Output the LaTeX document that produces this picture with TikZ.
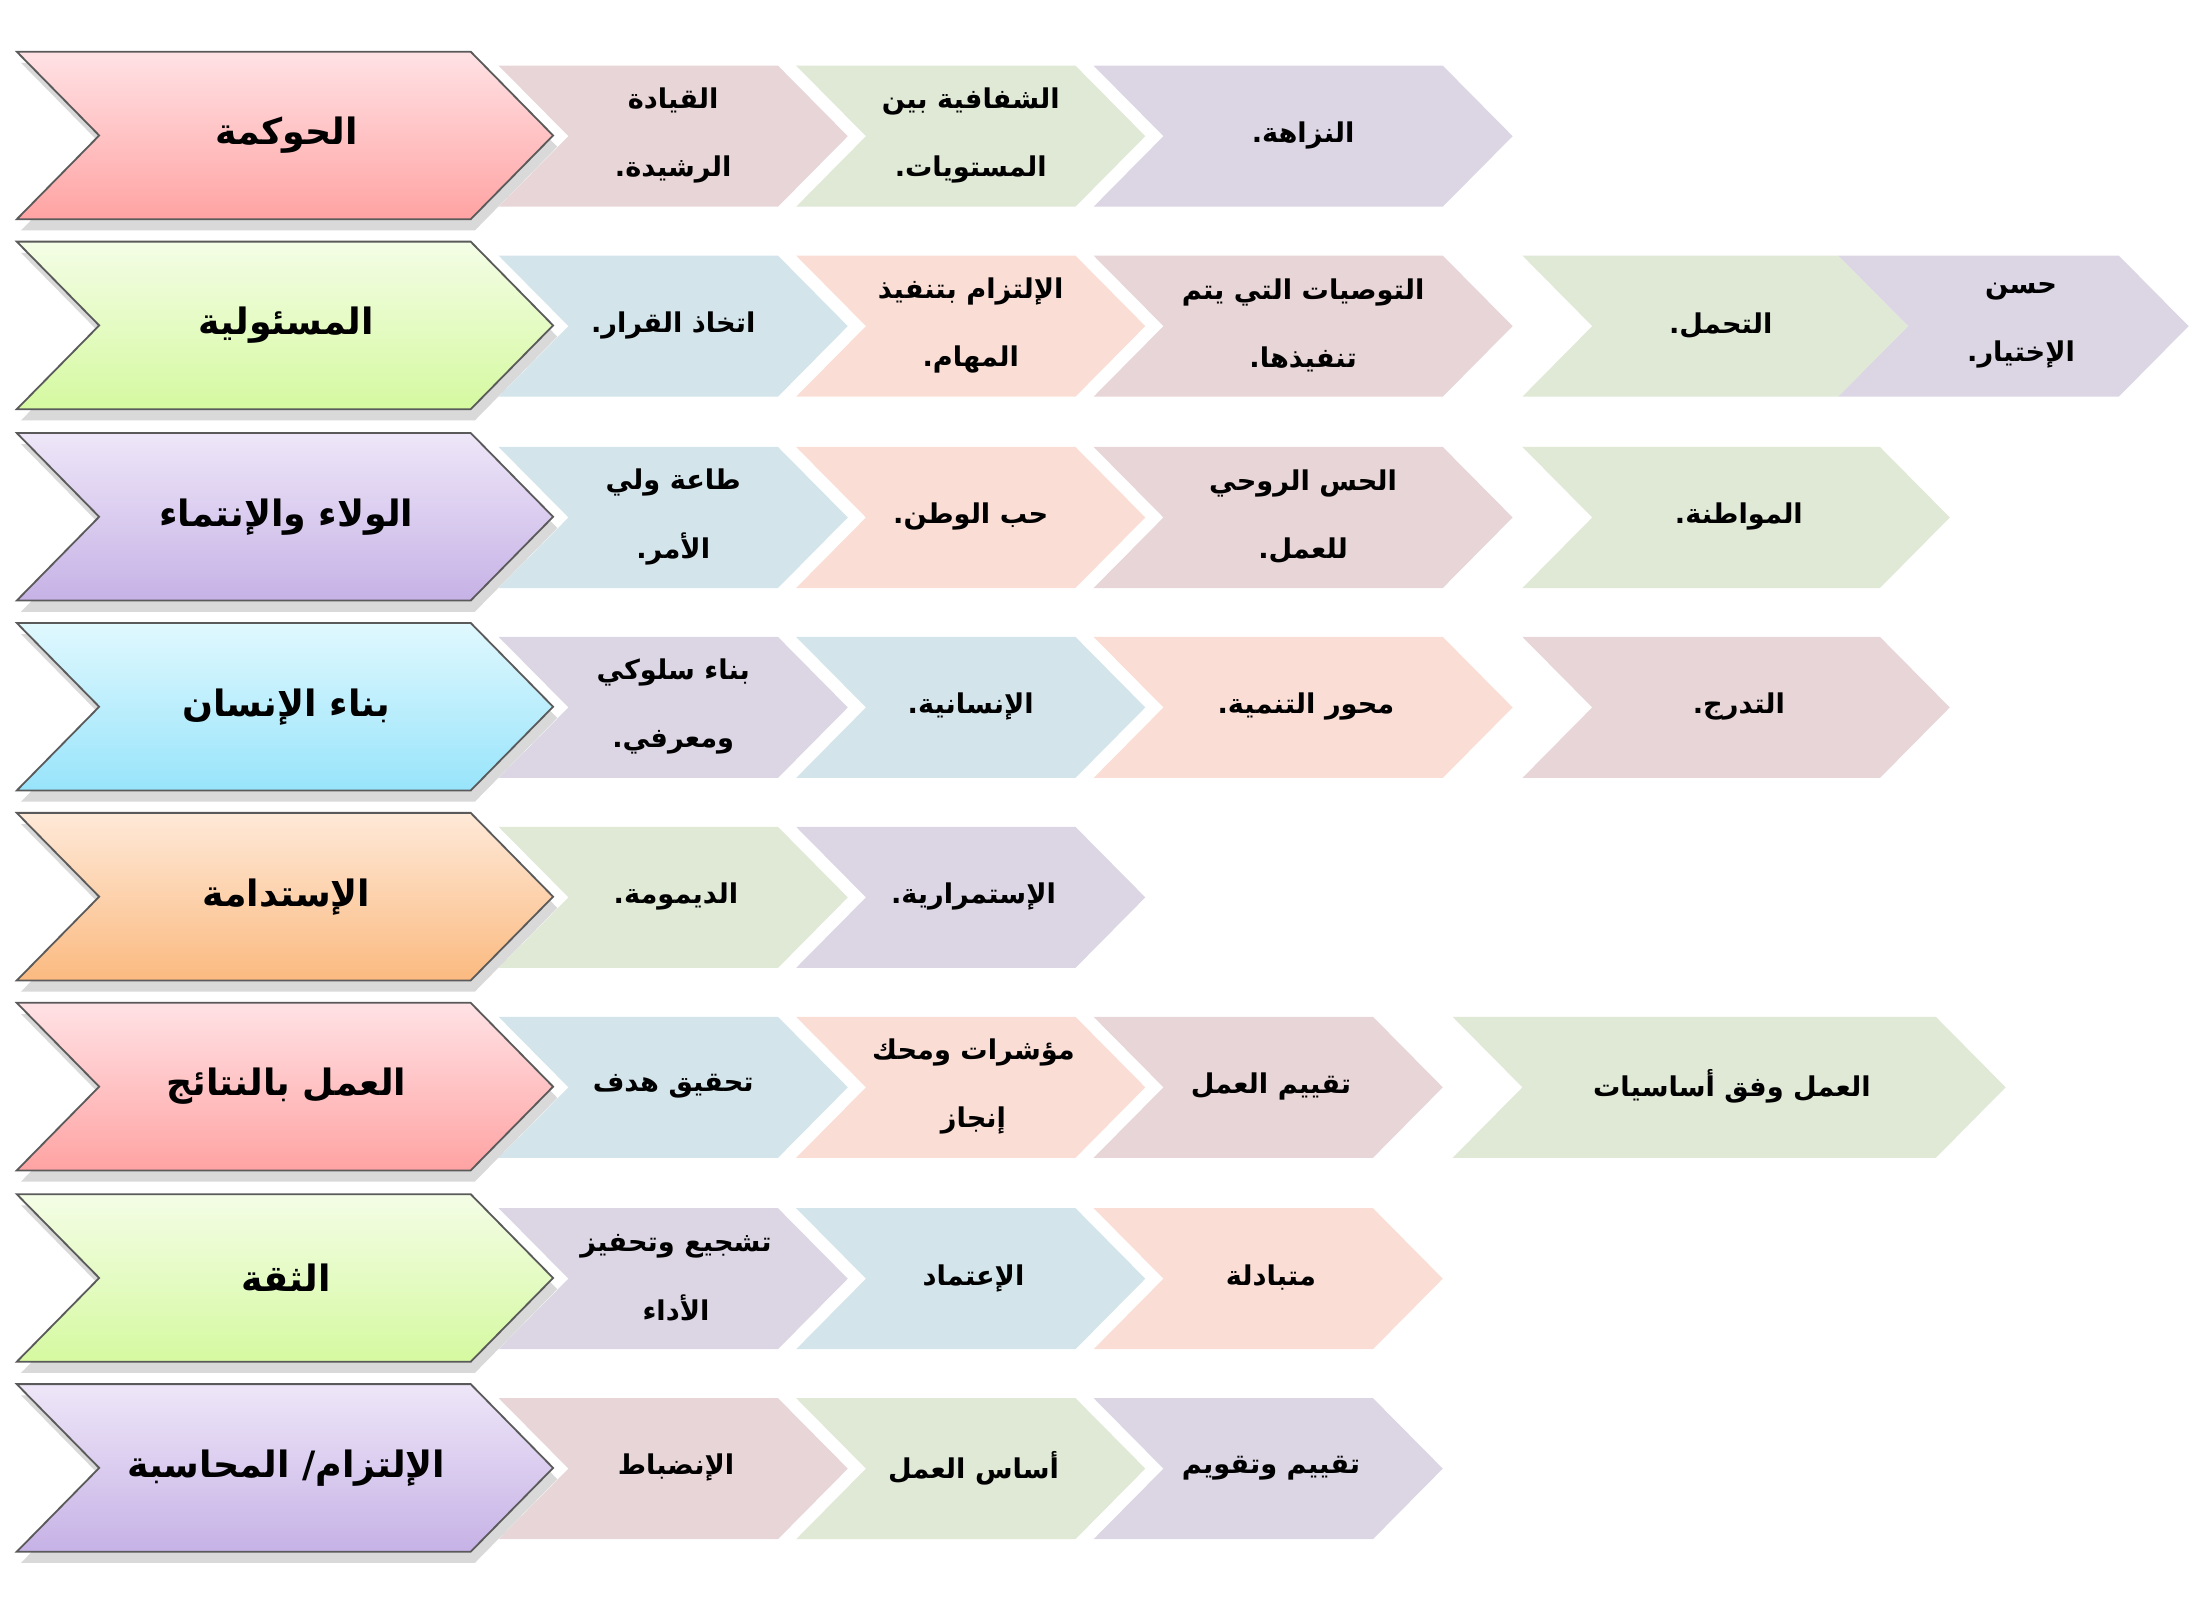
\documentclass[tikz,border=0pt]{standalone}
\usepackage{fontspec}
\newfontfamily\arabicfont[Script=Arabic]{DejaVu Sans}
\TeXXeTstate=1
\usetikzlibrary{shadows}
\newcommand{\artxt}[1]{{\arabicfont\beginR #1\endR}}
\newcommand{\chevron}[5]{(#1,#2) -- ++(#3,0) -- ++(#5,#4/2) -- ++(-#5,#4/2) -- ++(-#3,0) -- ++(#5,-#4/2) -- cycle}
\begin{document}
\begin{tikzpicture}[x=1pt, y=-1pt,
    head/.style={draw=outline, line width=1.3pt, line join=miter,
      drop shadow={shadow xshift=3pt, shadow yshift=-8pt, opacity=0.25, fill=black!60}},
    item/.style={draw=white, line width=0.6pt},
    headtxt/.style={font=\arabicfont\bfseries\fontsize{26}{32}\selectfont, align=center},
    itemtxt/.style={font=\arabicfont\bfseries\fontsize{19.5}{49}\selectfont, align=center}]
        \definecolor{outline}{RGB}{90,90,90}
        \definecolor{mauve}{RGB}{232,213,215}
        \definecolor{sage}{RGB}{224,232,214}
        \definecolor{lilac}{RGB}{220,214,228}
        \definecolor{mist}{RGB}{211,228,234}
        \definecolor{peach}{RGB}{250,222,213}
        \definecolor{pinkT}{RGB}{255,226,229}
        \definecolor{pinkB}{RGB}{255,163,163}
        \definecolor{greenT}{RGB}{244,253,230}
        \definecolor{greenB}{RGB}{213,249,160}
        \definecolor{purpleT}{RGB}{238,230,248}
        \definecolor{purpleB}{RGB}{198,178,230}
        \definecolor{cyanT}{RGB}{224,248,254}
        \definecolor{cyanB}{RGB}{152,228,251}
        \definecolor{orangeT}{RGB}{254,233,216}
        \definecolor{orangeB}{RGB}{251,186,128}
        \useasboundingbox (0,0) rectangle (1568,1148);
        % row 1
        \fill[mauve] \chevron{357}{47}{200}{101}{50};
        \fill[sage] \chevron{570}{47}{200}{101}{50};
        \fill[lilac] \chevron{783}{47}{250}{101}{50};
        \draw[head, top color=pinkT, bottom color=pinkB] \chevron{12}{37}{325}{120}{59};
        \node[headtxt] (h1) at (205,97) {\artxt{الحوكمة}};
        \node[itemtxt] (a1) at (482,97) {\artxt{القيادة}\\\artxt{الرشيدة.}};
        \node[itemtxt] (a2) at (695,97) {\artxt{الشفافية بين}\\\artxt{المستويات.}};
        \node[itemtxt] (a3) at (933,97) {\artxt{النزاهة.}};
        % row 2
        \fill[mist] \chevron{357}{183}{200}{101}{50};
        \fill[peach] \chevron{570}{183}{200}{101}{50};
        \fill[mauve] \chevron{783}{183}{250}{101}{50};
        \fill[lilac] \chevron{1316}{183}{201}{101}{50};
        \fill[sage] \chevron{1090}{183}{226}{101}{50};
        \draw[head, top color=greenT, bottom color=greenB] \chevron{12}{173}{325}{120}{59};
        \node[headtxt] (h2) at (205,233) {\artxt{المسئولية}};
        \node[itemtxt] (b1) at (482,233) {\artxt{اتخاذ القرار.}};
        \node[itemtxt] (b2) at (695,233) {\artxt{الإلتزام بتنفيذ}\\\artxt{المهام.}};
        \node[itemtxt] (b3) at (933,233) {\artxt{التوصيات التي يتم}\\\artxt{تنفيذها.}};
        \node[itemtxt] (b4) at (1232,233) {\artxt{التحمل.}};
        \node[itemtxt] (b5) at (1447,233) {\artxt{حسن}\\\artxt{الإختيار.}};
        % row 3
        \fill[mist] \chevron{357}{320}{200}{101}{50};
        \fill[peach] \chevron{570}{320}{200}{101}{50};
        \fill[mauve] \chevron{783}{320}{250}{101}{50};
        \fill[sage] \chevron{1090}{320}{256}{101}{50};
        \draw[head, top color=purpleT, bottom color=purpleB] \chevron{12}{310}{325}{120}{59};
        \node[headtxt] (h3) at (205,370) {\artxt{الولاء والإنتماء}};
        \node[itemtxt] (c1) at (482,370) {\artxt{طاعة ولي}\\\artxt{الأمر.}};
        \node[itemtxt] (c2) at (695,370) {\artxt{حب الوطن.}};
        \node[itemtxt] (c3) at (933,370) {\artxt{الحس الروحي}\\\artxt{للعمل.}};
        \node[itemtxt] (c4) at (1245,370) {\artxt{المواطنة.}};
        % row 4
        \fill[lilac] \chevron{357}{456}{200}{101}{50};
        \fill[mist] \chevron{570}{456}{200}{101}{50};
        \fill[peach] \chevron{783}{456}{250}{101}{50};
        \fill[mauve] \chevron{1090}{456}{256}{101}{50};
        \draw[head, top color=cyanT, bottom color=cyanB] \chevron{12}{446}{325}{120}{59};
        \node[headtxt] (h4) at (205,506) {\artxt{بناء الإنسان}};
        \node[itemtxt] (d1) at (482,506) {\artxt{بناء سلوكي}\\\artxt{ومعرفي.}};
        \node[itemtxt] (d2) at (695,506) {\artxt{الإنسانية.}};
        \node[itemtxt] (d3) at (935,506) {\artxt{محور التنمية.}};
        \node[itemtxt] (d4) at (1245,506) {\artxt{التدرج.}};
        % row 5
        \fill[sage] \chevron{357}{592}{200}{101}{50};
        \fill[lilac] \chevron{570}{592}{200}{101}{50};
        \draw[head, top color=orangeT, bottom color=orangeB] \chevron{12}{582}{325}{120}{59};
        \node[headtxt] (h5) at (205,642) {\artxt{الإستدامة}};
        \node[itemtxt] (e1) at (484,642) {\artxt{الديمومة.}};
        \node[itemtxt] (e2) at (697,642) {\artxt{الإستمرارية.}};
        % row 6
        \fill[mist] \chevron{357}{728}{200}{101}{50};
        \fill[peach] \chevron{570}{728}{200}{101}{50};
        \fill[mauve] \chevron{783}{728}{200}{101}{50};
        \fill[sage] \chevron{1040}{728}{346}{101}{50};
        \draw[head, top color=pinkT, bottom color=pinkB] \chevron{12}{718}{325}{120}{59};
        \node[headtxt] (h6) at (205,778) {\artxt{العمل بالنتائج}};
        \node[itemtxt] (f1) at (482,778) {\artxt{تحقيق هدف}};
        \node[itemtxt] (f2) at (697,778) {\artxt{مؤشرات ومحك}\\\artxt{إنجاز}};
        \node[itemtxt] (f3) at (910,778) {\artxt{تقييم العمل}};
        \node[itemtxt] (f4) at (1240,778) {\artxt{العمل وفق أساسيات}};
        % row 7
        \fill[lilac] \chevron{357}{865}{200}{101}{50};
        \fill[mist] \chevron{570}{865}{200}{101}{50};
        \fill[peach] \chevron{783}{865}{200}{101}{50};
        \draw[head, top color=greenT, bottom color=greenB] \chevron{12}{855}{325}{120}{59};
        \node[headtxt] (h7) at (205,915) {\artxt{الثقة}};
        \node[itemtxt] (g1) at (484,915) {\artxt{تشجيع وتحفيز}\\\artxt{الأداء}};
        \node[itemtxt] (g2) at (697,915) {\artxt{الإعتماد}};
        \node[itemtxt] (g3) at (910,915) {\artxt{متبادلة}};
        % row 8
        \fill[mauve] \chevron{357}{1001}{200}{101}{50};
        \fill[sage] \chevron{570}{1001}{200}{101}{50};
        \fill[lilac] \chevron{783}{1001}{200}{101}{50};
        \draw[head, top color=purpleT, bottom color=purpleB] \chevron{12}{991}{325}{120}{59};
        \node[headtxt] (h8) at (205,1051) {\artxt{الإلتزام/ المحاسبة}};
        \node[itemtxt] (k1) at (484,1051) {\artxt{الإنضباط}};
        \node[itemtxt] (k2) at (697,1051) {\artxt{أساس العمل}};
        \node[itemtxt] (k3) at (910,1051) {\artxt{تقييم وتقويم}};
      \end{tikzpicture}
\end{document}
